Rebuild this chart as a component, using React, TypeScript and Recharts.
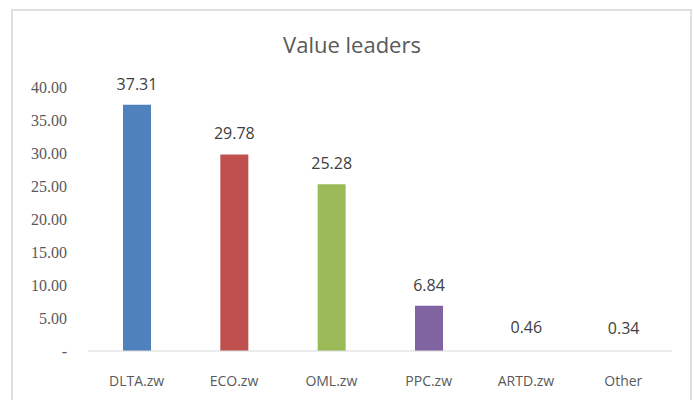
import React from "react";
import { BarChart, Bar, XAxis, YAxis, Cell, LabelList } from "recharts";

const categories = ["DLTA.zw", "ECO.zw", "OML.zw", "PPC.zw", "ARTD.zw", "Other"];
const values = [37.31, 29.78, 25.28, 6.84, 0.46, 0.34];
const colors = ["#4F81BD", "#C0504D", "#9BBB59", "#8064A2", "#ffffff", "#ffffff"];
const yTicks = [0, 5, 10, 15, 20, 25, 30, 35, 40];

const data = categories.map((name, i) => ({ name, value: values[i] }));

const XTick = (props: any) => {
  const { x, y, payload } = props;
  return (
    <text x={x} y={y + 21} textAnchor="middle" dominantBaseline="central"
      fontFamily="Open Sans" fontSize={14} fill="#595959">
      {payload.value}
    </text>
  );
};

const YTick = (props: any) => {
  const { x, y, payload } = props;
  return (
    <text x={x - 13} y={y} textAnchor="end" dominantBaseline="central"
      fontFamily="Liberation Serif" fontSize={16} fill="#595959">
      {payload.value === 0 ? "-" : payload.value.toFixed(2)}
    </text>
  );
};

const ValueLabel = (props: any) => {
  const { x, y, width, value } = props;
  return (
    <text x={x + width / 2} y={y - 21} textAnchor="middle" dominantBaseline="central"
      fontFamily="Open Sans" fontSize={16} fill="#404040">
      {value.toFixed(2)}
    </text>
  );
};

export default function App() {
  return (
    <div style={{ position: "absolute", left: 0, top: 0, width: 694, height: 400, background: "#fff", overflow: "hidden" }}>
      <div style={{ position: "absolute", left: 11, top: 9, width: 681, height: 400, border: "2px solid #e0e0e0", boxSizing: "border-box" }} />
      <div style={{ position: "absolute", left: 0, top: 29, width: 704, textAlign: "center", fontFamily: "Open Sans", fontSize: 22, color: "#595959", lineHeight: "30px" }}>
        Value leaders
      </div>
      <div style={{ position: "absolute", left: 0, top: 0 }}>
        <BarChart width={694} height={400} data={data}
          margin={{ top: 87, right: 22, bottom: 19, left: 10 }}>
          <XAxis dataKey="name" axisLine={{ stroke: "#d9d9d9" }} tickLine={false}
            tick={<XTick />} height={30} interval={0} />
          <YAxis domain={[0, 40]} ticks={yTicks} axisLine={false} tickLine={false}
            tick={<YTick />} width={78} interval={0} />
          <Bar dataKey="value" barSize={28} isAnimationActive={false}>
            {data.map((d, i) => (
              <Cell key={d.name} fill={colors[i]} />
            ))}
            <LabelList dataKey="value" content={<ValueLabel />} />
          </Bar>
        </BarChart>
      </div>
    </div>
  );
}
